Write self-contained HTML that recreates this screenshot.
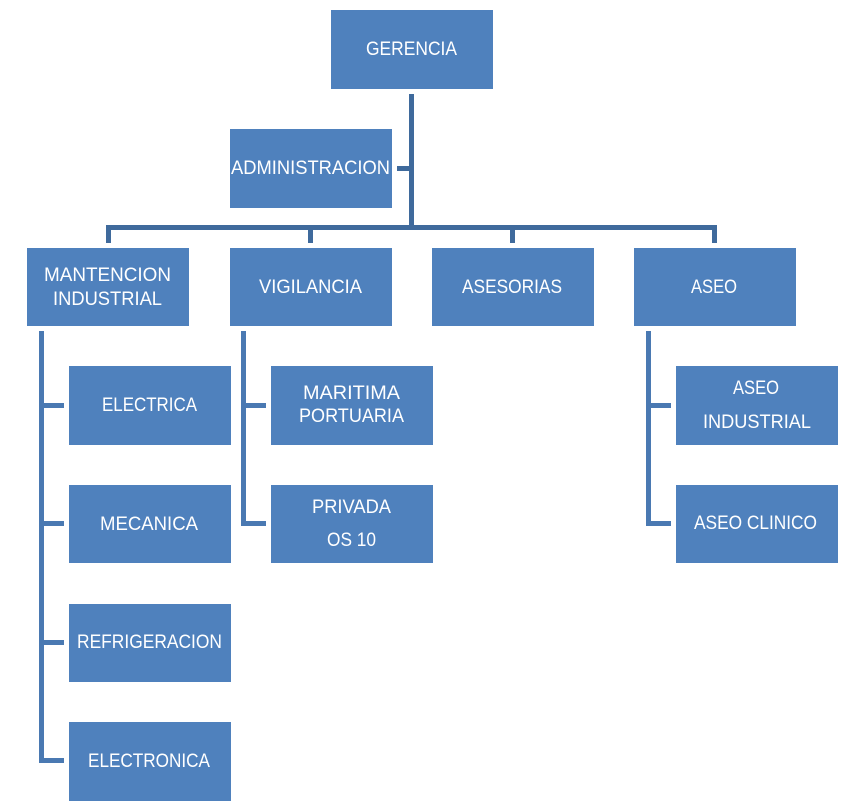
<!DOCTYPE html>
<html><head><meta charset="utf-8"><style>
html,body{margin:0;padding:0;background:#fff;}
svg{display:block;}
text{font-family:"Liberation Sans",sans-serif;font-size:19px;fill:#fff;}
</style></head><body>
<svg width="864" height="807" viewBox="0 0 864 807" xmlns="http://www.w3.org/2000/svg">
<g fill="#3f6a9c">
<rect x="409" y="94" width="5" height="136"/>
<rect x="397" y="166" width="17" height="5"/>
<rect x="106" y="225" width="611" height="5"/>
<rect x="106" y="225" width="5" height="18"/>
<rect x="308" y="225" width="5" height="18"/>
<rect x="510" y="225" width="5" height="18"/>
<rect x="712" y="225" width="5" height="18"/>
</g>
<g fill="#4a79b2">
<rect x="39" y="331" width="5" height="432"/>
<rect x="39" y="403" width="25" height="5"/>
<rect x="39" y="521" width="25" height="5"/>
<rect x="39" y="640" width="25" height="5"/>
<rect x="39" y="758" width="25" height="5"/>
<rect x="241" y="331" width="5" height="195"/>
<rect x="241" y="403" width="25" height="5"/>
<rect x="241" y="521" width="25" height="5"/>
<rect x="646" y="331" width="5" height="195"/>
<rect x="646" y="403" width="25" height="5"/>
<rect x="646" y="521" width="25" height="5"/>
</g>
<g fill="#4f81bd">
<rect x="331" y="10" width="162" height="79"/>
<rect x="230" y="129" width="162" height="79"/>
<rect x="27" y="248" width="162" height="78"/>
<rect x="230" y="248" width="162" height="78"/>
<rect x="432" y="248" width="162" height="78"/>
<rect x="634" y="248" width="162" height="78"/>
<rect x="69" y="366" width="162" height="79"/>
<rect x="69" y="485" width="162" height="78"/>
<rect x="69" y="604" width="162" height="78"/>
<rect x="69" y="722" width="162" height="79"/>
<rect x="271" y="366" width="162" height="79"/>
<rect x="271" y="485" width="162" height="78"/>
<rect x="676" y="366" width="162" height="79"/>
<rect x="676" y="485" width="162" height="78"/>
</g>
<g>
<text x="366" y="55" textLength="91" lengthAdjust="spacingAndGlyphs">GERENCIA</text>
<text x="231" y="174" textLength="159" lengthAdjust="spacingAndGlyphs">ADMINISTRACION</text>
<text x="44" y="281" textLength="127" lengthAdjust="spacingAndGlyphs">MANTENCION</text>
<text x="53" y="305" textLength="109" lengthAdjust="spacingAndGlyphs">INDUSTRIAL</text>
<text x="259" y="293" textLength="103" lengthAdjust="spacingAndGlyphs">VIGILANCIA</text>
<text x="462" y="293" textLength="100" lengthAdjust="spacingAndGlyphs">ASESORIAS</text>
<text x="691" y="293" textLength="46" lengthAdjust="spacingAndGlyphs">ASEO</text>
<text x="102" y="411" textLength="95" lengthAdjust="spacingAndGlyphs">ELECTRICA</text>
<text x="100" y="530" textLength="98" lengthAdjust="spacingAndGlyphs">MECANICA</text>
<text x="77" y="648" textLength="145" lengthAdjust="spacingAndGlyphs">REFRIGERACION</text>
<text x="88" y="767" textLength="122" lengthAdjust="spacingAndGlyphs">ELECTRONICA</text>
<text x="303" y="399" textLength="97" lengthAdjust="spacingAndGlyphs">MARITIMA</text>
<text x="299" y="422" textLength="105" lengthAdjust="spacingAndGlyphs">PORTUARIA</text>
<text x="312" y="513" textLength="79" lengthAdjust="spacingAndGlyphs">PRIVADA</text>
<text x="327" y="546" textLength="49" lengthAdjust="spacingAndGlyphs">OS 10</text>
<text x="733" y="394" textLength="46" lengthAdjust="spacingAndGlyphs">ASEO</text>
<text x="703" y="428" textLength="108" lengthAdjust="spacingAndGlyphs">INDUSTRIAL</text>
<text x="694" y="529" textLength="123" lengthAdjust="spacingAndGlyphs">ASEO CLINICO</text>
</g>
</svg>
</body></html>
